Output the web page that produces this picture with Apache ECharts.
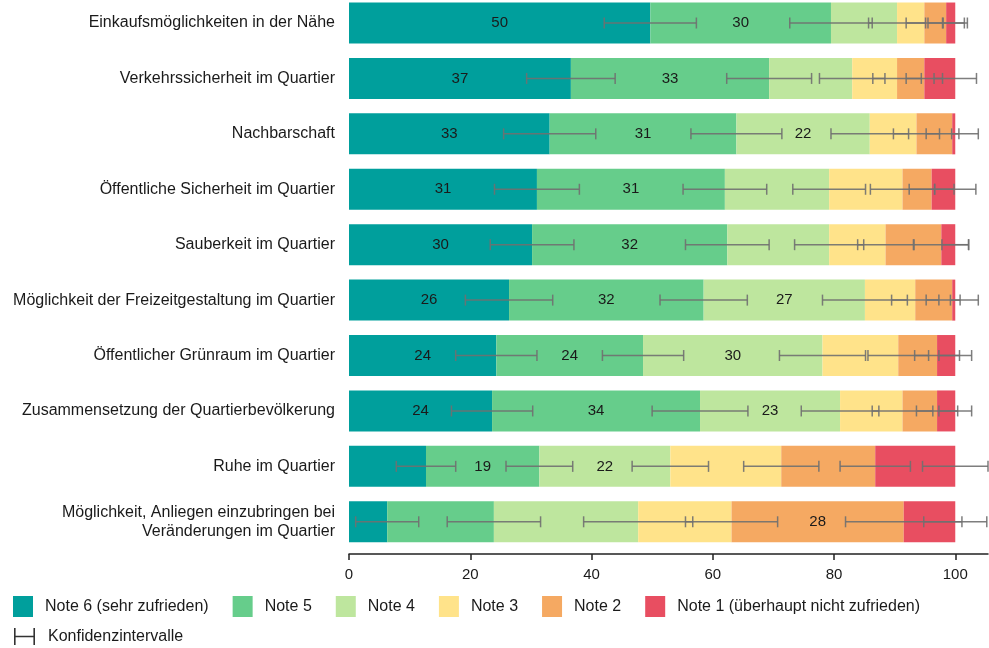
<!DOCTYPE html>
<html>
<head>
<meta charset="utf-8">
<script src="https://cdn.jsdelivr.net/npm/echarts@6/dist/echarts.min.js"></script>
<style>
html, body { margin: 0; padding: 0; background: #fff; }
#chart { width: 989px; height: 648px; }
</style>
</head>
<body>
<div id="chart"></div>
<script>
const categories = [
    'Einkaufsmöglichkeiten in der Nähe',
    'Verkehrssicherheit im Quartier',
    'Nachbarschaft',
    'Öffentliche Sicherheit im Quartier',
    'Sauberkeit im Quartier',
    'Möglichkeit der Freizeitgestaltung im Quartier',
    'Öffentlicher Grünraum im Quartier',
    'Zusammensetzung der Quartierbevölkerung',
    'Ruhe im Quartier',
    'Möglichkeit, Anliegen einzubringen bei\nVeränderungen im Quartier'
];
const seriesNames = ['Note 6 (sehr zufrieden)', 'Note 5', 'Note 4', 'Note 3', 'Note 2', 'Note 1 (überhaupt nicht zufrieden)'];

// Anteile in %
const note6 = [49.7, 36.6, 33.1, 31.0, 30.2, 26.4, 24.3, 23.6, 12.7, 6.3];
const note5 = [29.8, 32.7, 30.8, 31.0, 32.2, 32.1, 24.2, 34.3, 18.7, 17.6];
const note4 = [10.9, 13.7, 22.0, 17.2, 16.8, 26.6, 29.6, 23.1, 21.6, 23.8];
const note3 = [4.5, 7.4, 7.7, 12.1, 9.3, 8.3, 12.5, 10.3, 18.3, 15.4];
const note2 = [3.6, 4.5, 5.9, 4.8, 9.2, 6.1, 6.4, 5.7, 15.5, 28.4];
const note1 = [1.5, 5.1, 0.5, 3.9, 2.3, 0.5, 3.0, 3.0, 13.2, 8.5];

// halbe Breite der Konfidenzintervalle (Prozentpunkte)
const ci6 = [7.6, 7.3, 7.6, 7.0, 6.9, 7.2, 6.7, 6.7, 4.9, 5.2];
const ci5 = [6.8, 7.0, 7.5, 6.9, 6.9, 7.2, 6.7, 7.9, 5.5, 7.7];
const ci4 = [4.7, 5.4, 6.4, 6.0, 5.7, 7.0, 7.1, 6.4, 6.3, 9.0];
const ci3 = [3.0, 4.0, 3.8, 5.3, 4.6, 3.9, 5.0, 5.0, 6.2, 7.6];
const ci2 = [3.0, 3.0, 4.3, 3.7, 4.5, 4.3, 3.7, 3.4, 5.8, 9.6];
const ci1 = [2.0, 3.5, 0.6, 3.4, 2.2, 0.8, 2.7, 2.7, 5.4, 5.2];

const xTicks = [0, 20, 40, 60, 80, 100];
const labelMin = 18.5;
const hiddenLabels = [[2, 9]]; // [Serie, Kategorie]

const colors = ['#009F9C', '#66CD8B', '#BEE69E', '#FFE38A', '#F5A962', '#E84E61'];
const font = 'Liberation Sans, Arial, sans-serif';

function buildErrorData() {
    const values = [note6, note5, note4, note3, note2, note1];
    const cis = [ci6, ci5, ci4, ci3, ci2, ci1];
    const out = [];
    categories.forEach((c, i) => {
        let cum = 0;
        values.forEach((v, s) => {
            cum += v[i];
            out.push([i, cum - cis[s][i], cum + cis[s][i]]);
        });
    });
    return out;
}

function renderErrorBar(params, api) {
    const y = api.value(0);
    const lo = api.coord([api.value(1), y]);
    const hi = api.coord([api.value(2), y]);
    const cap = 5.5;
    const style = { stroke: 'rgba(112,112,112,0.9)', lineWidth: 1.5, fill: null };
    return {
        type: 'group',
        children: [
            { type: 'line', shape: { x1: lo[0], y1: lo[1], x2: hi[0], y2: hi[1] }, style: style },
            { type: 'line', shape: { x1: lo[0], y1: lo[1] - cap, x2: lo[0], y2: lo[1] + cap }, style: style },
            { type: 'line', shape: { x1: hi[0], y1: hi[1] - cap, x2: hi[0], y2: hi[1] + cap }, style: style }
        ]
    };
}

function getOption() {
    const values = [note6, note5, note4, note3, note2, note1];
    const bars = values.map((v, s) => ({
        name: seriesNames[s],
        type: 'bar',
        stack: 'total',
        barWidth: 41,
        itemStyle: { color: colors[s] },
        data: v.map((val, i) => {
            const hidden = hiddenLabels.some(h => h[0] === s && h[1] === i);
            return { value: val, label: { show: val >= labelMin && !hidden } };
        }),
        label: {
            position: 'inside',
            color: '#1a1a1a',
            fontFamily: font,
            fontSize: 15,
            formatter: p => Math.round(p.value)
        },
        silent: true
    }));

    return {
        animation: false,
        grid: { left: 349, right: 1, top: -4.7, height: 554.2, outerBoundsMode: 'none', containLabel: false },
        xAxis: {
            type: 'value',
            min: 0,
            max: 105.4,
            interval: 20,
            offset: 4.5,
            splitLine: { show: false },
            axisLine: { show: true, lineStyle: { color: '#222', width: 1.5 } },
            axisTick: { show: true, length: 6, customValues: xTicks, lineStyle: { color: '#222', width: 1.5 } },
            axisLabel: { customValues: xTicks, color: '#1a1a1a', fontFamily: font, fontSize: 15, margin: 13 }
        },
        yAxis: {
            type: 'category',
            inverse: true,
            data: categories,
            axisLine: { show: false },
            axisTick: { show: false },
            axisLabel: { color: '#1a1a1a', fontFamily: font, fontSize: 16, margin: 14, lineHeight: 19, align: 'right' }
        },
        legend: [
            {
                data: seriesNames,
                left: 13,
                top: 596,
                padding: 0,
                itemWidth: 20,
                itemHeight: 21,
                itemGap: 24,
                icon: 'rect',
                textStyle: { color: '#1a1a1a', fontFamily: font, fontSize: 16, padding: [0, 0, 0, 7] }
            },
            {
                data: [{
                    name: 'Konfidenzintervalle',
                    icon: 'path://M0,0h1.6v17h-1.6z M0,7.7h21v1.6h-21z M19.4,0h1.6v17h-1.6z'
                }],
                left: 14,
                top: 628,
                padding: 0,
                itemWidth: 21,
                itemHeight: 17,
                textStyle: { color: '#1a1a1a', fontFamily: font, fontSize: 16, padding: [0, 0, 0, 8] }
            }
        ],
        series: bars.concat([{
            name: 'Konfidenzintervalle',
            type: 'custom',
            renderItem: renderErrorBar,
            encode: { x: [1, 2], y: 0 },
            itemStyle: { color: '#333' },
            data: buildErrorData(),
            z: 10,
            silent: true
        }])
    };
}

const chart = echarts.init(document.getElementById('chart'));
chart.setOption(getOption());
</script>
</body>
</html>
